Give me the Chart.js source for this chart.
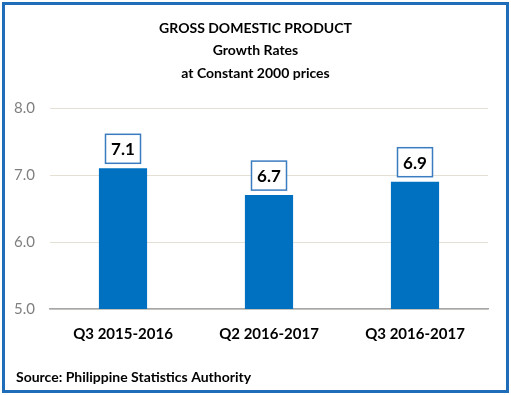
<!DOCTYPE html>
<html>
<head>
<meta charset="utf-8">
<script src="https://cdn.jsdelivr.net/npm/chart.js@4"></script>
<style>
  html, body { margin: 0; padding: 0; background: #fff; }
  #wrap { width: 511px; height: 395px; position: relative; }
</style>
</head>
<body>
<div id="wrap"><canvas id="gdpChart" width="511" height="395"></canvas></div>
<script>
// GDP growth rates
const quarters = ['Q3 2015-2016', 'Q2 2016-2017', 'Q3 2016-2017'];
const growthRates = [7.1, 6.7, 6.9];
const titleLines = ['GROSS DOMESTIC PRODUCT', 'Growth Rates', 'at Constant 2000 prices'];
const sourceText = 'Source: Philippine Statistics Authority';

const FONT = 'Lato, "Open Sans", sans-serif';
const BLUE = '#0070c0';

// frame, title and source note
const decorPlugin = {
    id: 'decor',
    beforeDraw(chart) {
        const ctx = chart.ctx;
        ctx.save();
        ctx.fillStyle = '#fff';
        ctx.fillRect(0, 0, chart.width, chart.height);
        ctx.restore();
    },
    afterDraw(chart) {
        const ctx = chart.ctx;
        ctx.save();
        ctx.strokeStyle = '#1f6db8';
        ctx.lineWidth = 3;
        ctx.strokeRect(3.5, 3.5, chart.width - 7, chart.height - 7);

        ctx.fillStyle = '#000';
        ctx.textAlign = 'center';
        ctx.textBaseline = 'middle';
        ctx.font = 'bold 14px ' + FONT;
        titleLines.forEach((line, i) => {
            ctx.fillText(line, chart.width / 2, 28 + i * 22.5);
        });

        ctx.textAlign = 'left';
        ctx.font = 'bold 14px ' + FONT;
        ctx.fillText(sourceText, 16, 377);
        ctx.restore();
    }
};

// boxed value labels above the bars
const boxLabelPlugin = {
    id: 'boxLabels',
    afterDatasetsDraw(chart) {
        const ctx = chart.ctx;
        const meta = chart.getDatasetMeta(0);
        ctx.save();
        ctx.font = 'bold 17px ' + FONT;
        ctx.textAlign = 'center';
        ctx.textBaseline = 'middle';
        meta.data.forEach((bar, i) => {
            const w = 35, h = 29;
            const x = bar.x - w / 2;
            const y = bar.y - 5 - h;
            ctx.fillStyle = '#fff';
            ctx.fillRect(x, y, w, h);
            ctx.strokeStyle = '#3b7cc0';
            ctx.lineWidth = 1.5;
            ctx.strokeRect(x, y, w, h);
            ctx.fillStyle = '#000';
            ctx.fillText(growthRates[i].toFixed(1), bar.x, y + h / 2 + 1);
        });
        ctx.restore();
    }
};

new Chart(document.getElementById('gdpChart'), {
    type: 'bar',
    data: {
        labels: quarters,
        datasets: [{
            data: growthRates,
            backgroundColor: BLUE,
            borderWidth: 0,
            categoryPercentage: 1,
            barPercentage: 0.33
        }]
    },
    options: {
        responsive: false,
        animation: false,
        layout: { padding: { top: 108, left: 0, right: 23, bottom: 0 } },
        plugins: {
            legend: { display: false },
            title: { display: false },
            tooltip: { enabled: false }
        },
        scales: {
            x: {
                grid: { display: false },
                border: { display: true, color: '#a6a6a6', width: 1.5 },
                ticks: {
                    color: '#000',
                    font: { family: FONT, size: 15, weight: 'bold' },
                    padding: 8
                },
                afterFit(scale) { scale.height = 395 - 309; }
            },
            y: {
                min: 5,
                max: 8,
                ticks: {
                    stepSize: 1,
                    color: '#7f7f7f',
                    font: { family: FONT, size: 15 },
                    padding: 15,
                    callback: v => Number(v).toFixed(1)
                },
                grid: { color: '#e4e0d4', lineWidth: 1, drawTicks: false },
                border: { display: false },
                afterFit(scale) { scale.width = 50; }
            }
        }
    },
    plugins: [decorPlugin, boxLabelPlugin]
});
</script>
</body>
</html>
